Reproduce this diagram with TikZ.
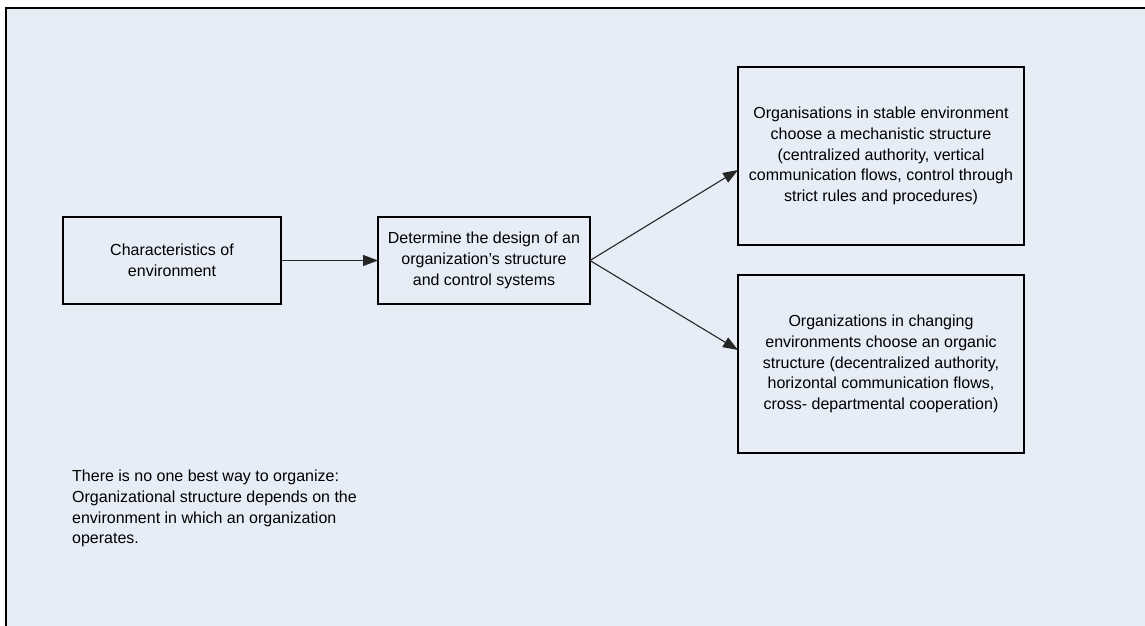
\documentclass[tikz,border=0pt]{standalone}
\usepackage{fontspec}
\setmainfont{Liberation Sans}
\usetikzlibrary{arrows.meta,positioning}
\definecolor{panelblue}{HTML}{E6EDF7}
\begin{document}
\begin{tikzpicture}[
    x=1pt, y=-1pt,
    font=\fontsize{16}{20.7}\selectfont,
    box/.style={draw, line width=2pt, inner sep=0, outer sep=0, align=center, minimum height=87pt},
    bigbox/.style={box, minimum width=286pt, minimum height=178pt},
    link/.style={draw, black!85, line width=1.1pt, -{Triangle[length=15pt, width=11pt]}}]
\useasboundingbox (0,0) rectangle (1145,626);
\clip (0,0) rectangle (1145,626);
\path[draw, fill=panelblue, line width=2.5pt] (6,8) rectangle (1170,650);

\node[box, minimum width=218pt] (env) at (172,260.5) {Characteristics of\\environment};
\node[box, minimum width=212pt, right=97pt of env] (design) {Determine the design of an\\organization’s structure\\and control systems};
\node[bigbox] (stable) at (881,156) {Organisations in stable environment\\choose a mechanistic structure\\(centralized authority, vertical\\communication flows, control through\\strict rules and procedures)};
\node[bigbox] (changing) at (881,364) {Organizations in changing\\environments choose an organic\\structure (decentralized authority,\\horizontal communication flows,\\cross- departmental cooperation)};
\node[anchor=north west, inner sep=0, align=left] (note) at (72,470) {There is no one best way to organize:\\Organizational structure depends on the\\environment in which an organization\\operates.};

\path[link] (env) -- (design);
\path[link] (design.east) -- ([yshift=-14pt]stable.west);
\path[link] (design.east) -- ([yshift=14pt]changing.west);
\end{tikzpicture}
\end{document}
